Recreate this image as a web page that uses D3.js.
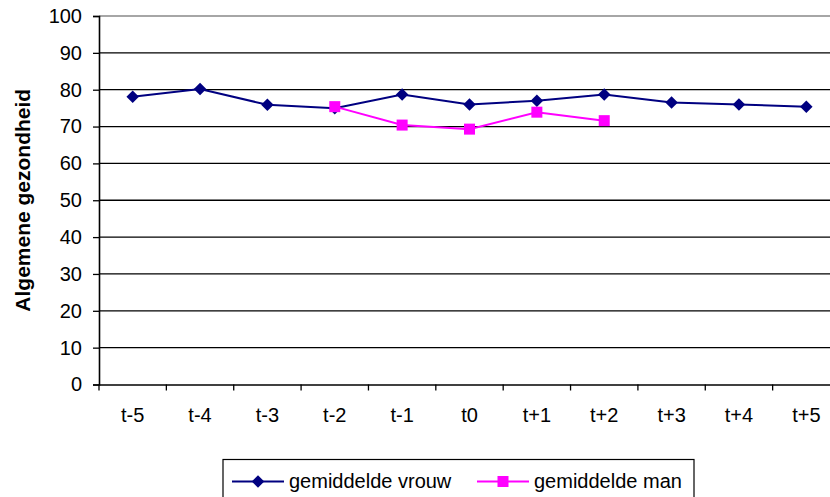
<!DOCTYPE html>
<html>
<head>
<meta charset="utf-8">
<script src="https://cdn.jsdelivr.net/npm/d3@7"></script>
<style>
  body { margin: 0; background: #fff; }
  text { font-family: Arial, "Liberation Sans", sans-serif; }
</style>
</head>
<body>
<div class="chart"></div>
<script>
/** chart data */
let categories = ["t-5", "t-4", "t-3", "t-2", "t-1", "t0", "t+1", "t+2", "t+3", "t+4", "t+5"];
let vrouw = [78.1, 80.2, 75.9, 75.0, 78.7, 76.0, 77.0, 78.7, 76.5, 76.0, 75.4];
let man = [null, null, null, 75.4, 70.4, 69.3, 73.9, 71.6, null, null, null];
let yTicks = [0, 10, 20, 30, 40, 50, 60, 70, 80, 90, 100];

/** canvas */
let width = 830, height = 497;
let margin = { top: 16, left: 99 };
let plot_width = 741, plot_height = 368.5;

let svg = d3.select('.chart').append('svg')
    .attr('width', width)
    .attr('height', height);

let canvas = svg.append('g')
    .attr('transform', `translate(${margin.left}, ${margin.top})`);

/** scales */
let xScale = d3.scaleBand()
    .domain(categories)
    .range([0, plot_width]);

let yScale = d3.scaleLinear()
    .domain([0, 100])
    .range([plot_height, 0]);

/** grid lines */
canvas.selectAll('.grid')
    .data(yTicks.filter(d => d > 0))
    .enter()
    .append('line')
    .attr('class', 'grid')
    .attr('x1', 0)
    .attr('x2', plot_width)
    .attr('y1', d => yScale(d))
    .attr('y2', d => yScale(d))
    .attr('stroke', d => d === 100 ? '#888' : '#000')
    .attr('stroke-width', 1.3);

/** axes */
let xAxis = d3.axisBottom(xScale).tickSize(0).tickPadding(23);
let yAxis = d3.axisLeft(yScale).tickValues(yTicks).tickSize(6).tickPadding(11);

let gx = canvas.append('g')
    .attr('transform', `translate(0, ${plot_height})`)
    .call(xAxis);
gx.select('.domain').attr('stroke', '#000').attr('stroke-width', 1.6);
gx.selectAll('text').style('font-size', '20px').attr('fill', '#000');

/** x ticks sit between categories */
canvas.selectAll('.xtick')
    .data(categories)
    .enter()
    .append('line')
    .attr('class', 'xtick')
    .attr('x1', d => xScale(d))
    .attr('x2', d => xScale(d))
    .attr('y1', plot_height)
    .attr('y2', plot_height + 6)
    .attr('stroke', '#000')
    .attr('stroke-width', 1.3);

let gy = canvas.append('g').call(yAxis);
gy.select('.domain').attr('stroke', '#000').attr('stroke-width', 1.6);
gy.selectAll('.tick line').attr('stroke', '#000').attr('stroke-width', 1.3);
gy.selectAll('text').style('font-size', '20px').attr('fill', '#000');

/** axis title */
svg.append('text')
    .attr('transform', `translate(30, ${margin.top + plot_height / 2}) rotate(-90)`)
    .attr('text-anchor', 'middle')
    .style('font-size', '21px')
    .style('font-weight', 'bold')
    .text('Algemene gezondheid');

/** lines */
let cx = d => xScale(d) + xScale.bandwidth() / 2;
let line = d3.line()
    .defined(d => d.v !== null)
    .x(d => cx(d.c))
    .y(d => yScale(d.v));

let vrouwData = categories.map((c, i) => ({ c: c, v: vrouw[i] }));
let manData = categories.map((c, i) => ({ c: c, v: man[i] }));

canvas.append('path')
    .datum(vrouwData)
    .attr('d', line)
    .attr('fill', 'none')
    .attr('stroke', '#000080')
    .attr('stroke-width', 2);

canvas.selectAll('.diamond')
    .data(vrouwData)
    .enter()
    .append('path')
    .attr('class', 'diamond')
    .attr('d', d3.symbol(d3.symbolDiamond2, 100))
    .attr('transform', d => `translate(${cx(d.c)}, ${yScale(d.v)})`)
    .attr('fill', '#000080');

canvas.append('path')
    .datum(manData)
    .attr('d', line)
    .attr('fill', 'none')
    .attr('stroke', '#ff00ff')
    .attr('stroke-width', 2);

canvas.selectAll('.square')
    .data(manData.filter(d => d.v !== null))
    .enter()
    .append('rect')
    .attr('class', 'square')
    .attr('x', d => cx(d.c) - 5.5)
    .attr('y', d => yScale(d.v) - 5.5)
    .attr('width', 11)
    .attr('height', 11)
    .attr('fill', '#ff00ff');

/** legend */
let legend = svg.append('g');
legend.append('rect')
    .attr('x', 223)
    .attr('y', 459.5)
    .attr('width', 471)
    .attr('height', 50)
    .attr('fill', '#fff')
    .attr('stroke', '#000')
    .attr('stroke-width', 1.2);

let legendItems = [
    { name: 'gemiddelde vrouw', color: '#000080', shape: 'diamond', x: 232 },
    { name: 'gemiddelde man', color: '#ff00ff', shape: 'square', x: 477 }
];

legendItems.forEach(function (item) {
    legend.append('line')
        .attr('x1', item.x)
        .attr('x2', item.x + 52)
        .attr('y1', 481.5)
        .attr('y2', 481.5)
        .attr('stroke', item.color)
        .attr('stroke-width', 2);
    if (item.shape === 'diamond') {
        legend.append('path')
            .attr('d', d3.symbol(d3.symbolDiamond2, 100))
            .attr('transform', `translate(${item.x + 26}, 481.5)`)
            .attr('fill', item.color);
    } else {
        legend.append('rect')
            .attr('x', item.x + 26 - 5.5)
            .attr('y', 476)
            .attr('width', 11)
            .attr('height', 11)
            .attr('fill', item.color);
    }
    legend.append('text')
        .attr('x', item.x + 57)
        .attr('y', 488)
        .style('font-size', '20px')
        .text(item.name);
});
</script>
</body>
</html>
